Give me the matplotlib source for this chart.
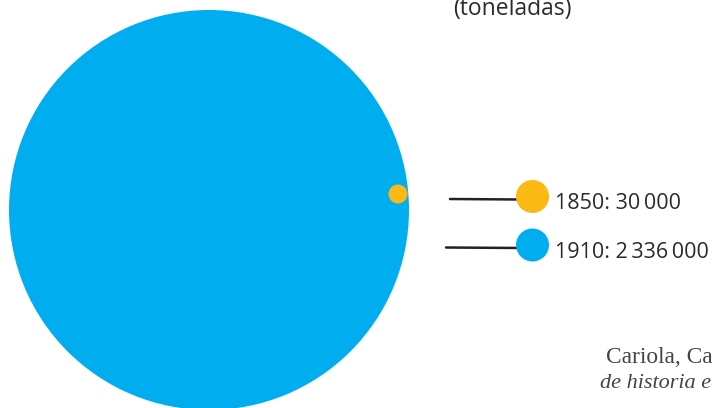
import matplotlib
matplotlib.use('Agg')
import matplotlib.pyplot as plt
from matplotlib.patches import Circle

# data
years = ['1850', '1910']
tons = [30000, 2336000]
labels = ['1850: 30\u2009000', '1910: 2\u2009336\u2009000']
colors = ['#FDB913', '#00AEEF']

fig = plt.figure(figsize=(7.12, 4.08), dpi=100)
ax = fig.add_axes([0, 0, 1, 1])
ax.set_xlim(0, 712)
ax.set_ylim(408, 0)
ax.set_aspect('equal')
ax.axis('off')

# big circle (1910) and small circle (1850) on its rim
ax.add_patch(Circle((209, 210), 200, color=colors[1], lw=0))
ax.add_patch(Circle((398, 194), 9.5, color=colors[0], lw=0))

# legend: lines, dots and labels
leg_y = [196.5, 245]
line_x0 = [450, 446]
for i in range(len(years)):
    ax.plot([line_x0[i], 520], [leg_y[i] + 2.5, leg_y[i] + 3], color='#222222', lw=1.8,
            solid_capstyle='round', zorder=1)
    ax.add_patch(Circle((532.5, leg_y[i]), 16.5, color=colors[i], lw=0, zorder=2))
    ax.text(555, leg_y[i] + 12.5, labels[i], fontsize=15.5, color='#2b2b2b',
            ha='left', va='baseline', family=['Open Sans', 'DejaVu Sans'])

ax.text(453, 15, '(toneladas)', fontsize=16.5, color='#2b2b2b', ha='left',
        va='baseline', family=['Open Sans', 'DejaVu Sans'])

ax.text(606, 363, 'Cariola, Carmen y Sunkel, Osvaldo. Un siglo', fontsize=16.8,
        color='#444444', ha='left', va='baseline', family='Liberation Serif')
ax.text(600, 388, 'de historia económica de Chile', fontsize=16, style='italic',
        color='#444444', ha='left', va='baseline', family='Liberation Serif')

plt.savefig('out.png', dpi=100)
